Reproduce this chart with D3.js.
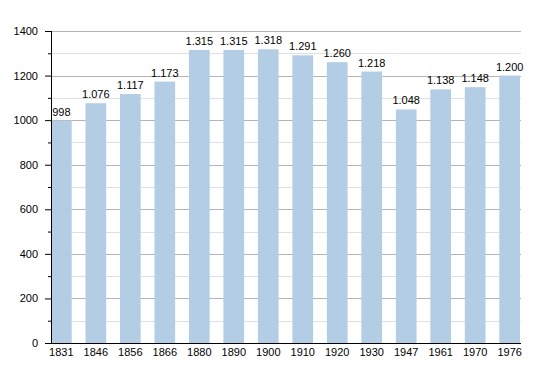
<!DOCTYPE html>
<html>
<head>
  <script src="https://d3js.org/d3.v7.min.js"></script>
  <style>
    body { margin: 0; background: #fff; }
    text { font-family: "Liberation Sans", Arial, sans-serif; fill: #000; }
  </style>
</head>
<body>
  <script>
    // Population by census year
    var years = ["1831", "1846", "1856", "1866", "1880", "1890", "1900", "1910", "1920", "1930", "1947", "1961", "1970", "1976"];
    var population = [998, 1076, 1117, 1173, 1315, 1315, 1318, 1291, 1260, 1218, 1048, 1138, 1148, 1200];
    var yTicks = [0, 200, 400, 600, 800, 1000, 1200, 1400];
    var yMinorTicks = [100, 300, 500, 700, 900, 1100, 1300];

    var width = 550, height = 373;
    var plotLeft = 51, plotRight = 520, plotTop = 31, plotBottom = 343;

    var svg = d3.select("body").append("svg")
      .attr("width", width)
      .attr("height", height);

    var x = d3.scaleBand()
      .domain(years)
      .range([plotLeft, plotRight])
      .paddingInner(0.4)
      .paddingOuter(0);

    var y = d3.scaleLinear()
      .domain([0, 1400])
      .range([plotBottom, plotTop]);

    // Minor gridlines
    svg.selectAll(".minor")
      .data(yMinorTicks)
      .enter().append("line")
      .attr("x1", plotLeft).attr("x2", plotRight + 1)
      .attr("y1", function(d) { return Math.round(y(d)) + 0.5; })
      .attr("y2", function(d) { return Math.round(y(d)) + 0.5; })
      .attr("stroke", "#e0e0e0");

    // Major gridlines
    svg.selectAll(".major")
      .data(yTicks.slice(1))
      .enter().append("line")
      .attr("x1", plotLeft).attr("x2", plotRight + 1)
      .attr("y1", function(d) { return Math.round(y(d)) + 0.5; })
      .attr("y2", function(d) { return Math.round(y(d)) + 0.5; })
      .attr("stroke", "#b4b4b4");

    // Bars
    svg.selectAll(".bar")
      .data(population)
      .enter().append("rect")
      .attr("x", function(d, i) { return x(years[i]); })
      .attr("width", x.bandwidth())
      .attr("y", function(d) { return y(d); })
      .attr("height", function(d) { return plotBottom - y(d); })
      .attr("fill", "#b3cde4");

    // Value labels (dot as thousands separator)
    svg.selectAll(".label")
      .data(population)
      .enter().append("text")
      .attr("x", function(d, i) { return x(years[i]) + x.bandwidth() / 2; })
      .attr("y", function(d) { return y(d) - 5; })
      .attr("text-anchor", "middle")
      .attr("font-size", "11px")
      .text(function(d) { return d3.format(",")(d).replace(",", "."); });

    // Y axis
    var yAxis = d3.axisLeft(y).tickValues(yTicks).tickFormat(d3.format("d")).tickSize(6).tickPadding(7);
    var gy = svg.append("g")
      .attr("transform", "translate(" + plotLeft + ",0)")
      .call(yAxis);
    gy.select(".domain").attr("stroke", "#000").attr("d", "M0.5," + plotTop + "V" + (plotBottom + 0.5));
    gy.selectAll("text").attr("font-size", "11px").attr("font-family", "Liberation Sans, Arial, sans-serif");

    var yMinor = d3.axisLeft(y).tickValues(yMinorTicks).tickSize(3).tickFormat("");
    svg.append("g")
      .attr("transform", "translate(" + plotLeft + ",0)")
      .call(yMinor)
      .select(".domain").remove();

    // X axis
    var xAxis = d3.axisBottom(x).tickSize(0).tickPadding(5);
    var gx = svg.append("g")
      .attr("transform", "translate(0," + plotBottom + ")")
      .call(xAxis);
    gx.select(".domain").attr("stroke", "#000").attr("d", "M" + plotLeft + ",0.5H" + (plotRight + 1));
    gx.selectAll("text").attr("font-size", "11px").attr("font-family", "Liberation Sans, Arial, sans-serif");
  </script>
</body>
</html>
